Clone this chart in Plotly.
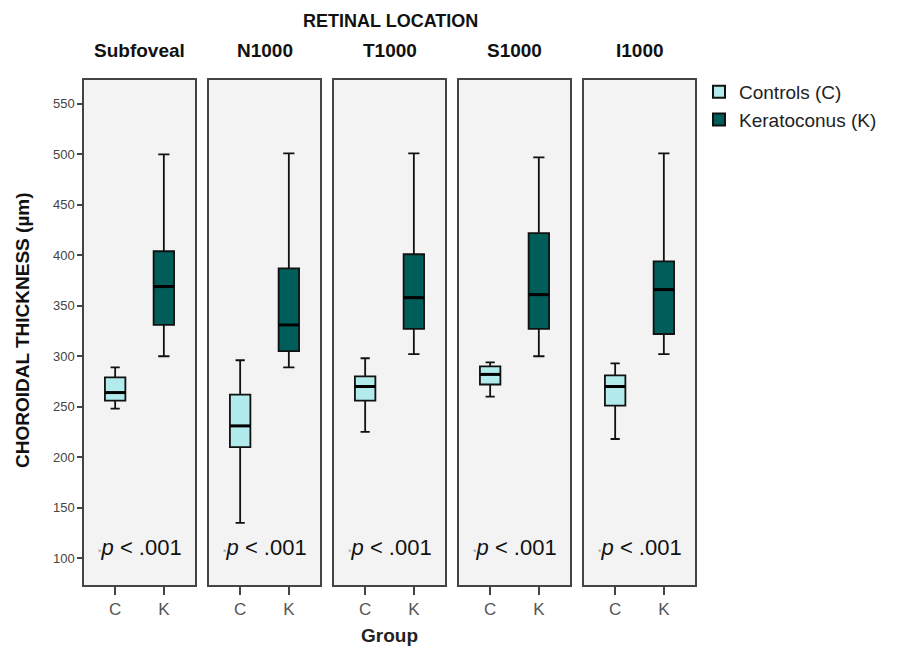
import plotly.graph_objects as go

locations = ["Subfoveal", "N1000", "T1000", "S1000", "I1000"]
group_ticks = ["C", "K"]

# Controls (C)
c_low = [248, 135, 225, 260, 218]
c_q1 = [256, 210, 256, 272, 251]
c_med = [264, 231, 270, 282, 270]
c_q3 = [279, 262, 280, 290, 281]
c_high = [289, 296, 298, 294, 293]

# Keratoconus (K)
k_low = [300, 289, 302, 300, 302]
k_q1 = [331, 305, 327, 327, 322]
k_med = [369, 331, 358, 361, 366]
k_q3 = [404, 387, 401, 422, 394]
k_high = [500, 501, 501, 497, 501]

y_ticks = [100, 150, 200, 250, 300, 350, 400, 450, 500, 550]

OFF = 8  # page body margin
W, H = 897 - OFF, 648 - OFF


def px(xp):
    return (xp - OFF) / W


def py(yp):
    return 1 - (yp - OFF) / H


panels_px = [(84, 195), (209, 320), (334, 445), (459, 570), (584, 695)]
top_px, bot_px = 80, 585

fig = go.Figure()
C_FILL = "#b2ebeb"
K_FILL = "#005e5a"
FONT = "Liberation Sans, Arial, sans-serif"

for i in range(5):
    ax = "" if i == 0 else str(i + 1)
    fig.add_trace(go.Box(
        x=[0], q1=[c_q1[i]], median=[c_med[i]], q3=[c_q3[i]],
        lowerfence=[c_low[i]], upperfence=[c_high[i]],
        width=0.42, whiskerwidth=0.45, fillcolor=C_FILL,
        line=dict(color="#111111", width=1.8),
        name="Controls (C)", legendgroup="C", showlegend=(i == 0),
        xaxis="x" + ax, yaxis="y" + ax, hoverinfo="skip"))
    fig.add_trace(go.Box(
        x=[1], q1=[k_q1[i]], median=[k_med[i]], q3=[k_q3[i]],
        lowerfence=[k_low[i]], upperfence=[k_high[i]],
        width=0.42, whiskerwidth=0.55, fillcolor=K_FILL,
        line=dict(color="#111111", width=1.8),
        name="Keratoconus (K)", legendgroup="K", showlegend=(i == 0),
        xaxis="x" + ax, yaxis="y" + ax, hoverinfo="skip"))
    # thicker median lines
    fig.add_trace(go.Scatter(
        x=[-0.21, 0.21, None, 0.79, 1.21],
        y=[c_med[i], c_med[i], None, k_med[i], k_med[i]],
        mode="lines", line=dict(color="#000000", width=3),
        showlegend=False, hoverinfo="skip",
        xaxis="x" + ax, yaxis="y" + ax))

yrange = [73.4, 573.6]
ydom = [py(bot_px), py(top_px)]
layout = dict(
    width=W, height=H,
    margin=dict(l=0, r=0, t=0, b=0),
    paper_bgcolor="white",
    plot_bgcolor="#f3f3f3",
    font=dict(family=FONT, color="#222222"),
    boxmode="overlay",
    showlegend=True,
    legend=dict(x=px(699), y=py(73), xanchor="left", yanchor="top",
                font=dict(size=19, family=FONT, color="#222222"),
                bgcolor="rgba(0,0,0,0)", tracegroupgap=0, itemsizing="constant"),
)
for i, (x0, x1) in enumerate(panels_px):
    ax = "" if i == 0 else str(i + 1)
    layout["xaxis" + ax] = dict(
        domain=[px(x0), px(x1)], anchor="y" + ax,
        range=[-0.64, 1.64], tickvals=[0, 1], ticktext=group_ticks,
        ticks="outside", ticklen=8, tickwidth=1.5, tickcolor="#444444",
        tickfont=dict(size=17, color="#555555", family=FONT),
        showline=True, linecolor="#444444", linewidth=1.5, mirror=True,
        showgrid=False, zeroline=False, fixedrange=True)
    layout["yaxis" + ax] = dict(
        domain=ydom, anchor="x" + ax, range=yrange,
        tickvals=y_ticks if i == 0 else [],
        ticks="outside" if i == 0 else "", ticklen=5, tickwidth=1.5,
        tickcolor="#444444",
        showticklabels=(i == 0),
        tickfont=dict(size=13, color="#444444", family=FONT),
        showline=True, linecolor="#444444", linewidth=1.5, mirror=True,
        showgrid=False, zeroline=False, fixedrange=True)
fig.update_layout(**layout)

ann = []


def label(text, xp, yp, size, angle=0, color="#111111"):
    return dict(text=text, x=px(xp), y=py(yp), xref="paper", yref="paper",
                xanchor="center", yanchor="middle", showarrow=False,
                textangle=angle, font=dict(size=size, color=color, family=FONT))


ann.append(label("<b>RETINAL LOCATION</b>", 390, 21, 18))
for i, (x0, x1) in enumerate(panels_px):
    ax = "" if i == 0 else str(i + 1)
    ann.append(label("<b>" + locations[i] + "</b>", (x0 + x1) / 2, 50, 19))
    ann.append(dict(text="<span style='color:#999999;font-size:9px'>*</span><i>p</i> < .001",
                    x=0.5, y=111, xref="x" + ax, yref="y" + ax, showarrow=False,
                    xanchor="center", yanchor="middle",
                    font=dict(size=22, color="#111111", family=FONT)))
ann.append(label("<b>CHOROIDAL THICKNESS (µm)</b>", 22, 330, 19, angle=-90))
ann.append(label("<b>Group</b>", 389, 635, 19, color="#222222"))
fig.update_layout(annotations=ann)

fig.write_html("out.html")
